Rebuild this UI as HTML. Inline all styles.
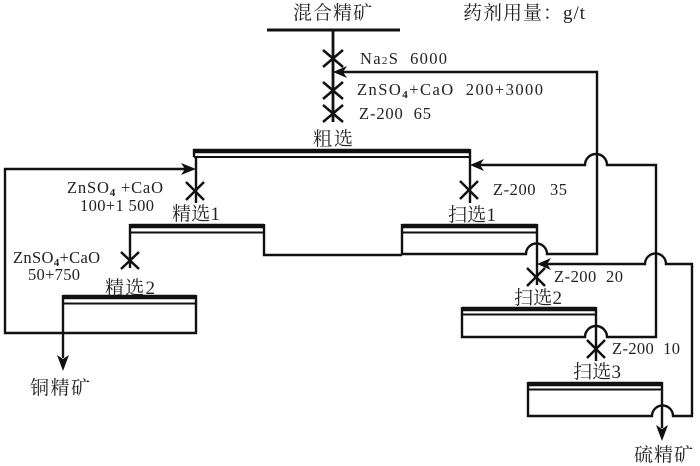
<!DOCTYPE html>
<html><head><meta charset="utf-8"><style>
html,body{margin:0;padding:0;background:#fff;width:700px;height:466px;overflow:hidden}
svg{display:block}
text{font-family:"Liberation Serif","Noto Serif CJK SC",serif;fill:#222;font-size:16.500px;white-space:pre}
.c{font-size:19px}
.l{fill:none;stroke:#111;stroke-width:2.400}
.x{fill:none;stroke:#111;stroke-width:2.500}
.t{fill:none;stroke:#111;stroke-width:4.500}
.s{fill:none;stroke:#111;stroke-width:2}
</style></head><body>
<svg width="700" height="466" viewBox="0 0 700 466" xmlns="http://www.w3.org/2000/svg">
<g style="filter:blur(0.3px)">
<!-- feed -->
<path d="M267 30H400" stroke="#111" stroke-width="3" fill="none"/>
<path class="l" d="M333 30V122" style="stroke-width:2.800"/>
<path class="x" d="M323 50L343 67M343 50L323 67M323 82L343 99M343 82L323 99M323 105L343 122M343 105L323 122"/>

<!-- roughing -->
<path class="t" d="M193 151H470"/>
<path class="s" d="M194 157H470"/>
<path class="l" d="M194 149V157M470 149V203M196 157V203"/>
<path class="x" d="M186 182L204 200M204 182L186 200M460 181L478 199M478 181L460 199"/>

<!-- cleaner 1 -->
<path class="t" d="M130 226H264"/>
<path class="s" d="M130 232.500H264"/>
<path class="l" d="M130 224V268M264 224V255H402"/>
<path class="x" d="M121 252L139 269M139 252L121 269"/>

<!-- cleaner 2 -->
<path class="t" d="M63 297H196"/>
<path class="s" d="M63 303.500H196"/>
<path class="l" d="M196 295V333H5V169H186M63 295V358"/>
<path d="M57 355L63 371L69 355L63 359Z" fill="#111"/>
<path d="M196 169L181 163L185 169L181 175Z" fill="#111"/>

<!-- scav 1 -->
<path class="t" d="M402 226H537"/>
<path class="s" d="M402 232.500H537"/>
<path class="l" d="M402 224V254H526A10.500 10.500 0 0 1 547 254H597V72H340"/>
<path class="l" d="M537 224V285"/>
<path d="M333 72L347 66L343 72L347 78Z" fill="#111"/>
<path class="x" d="M527 268L545 286M545 268L527 286"/>

<!-- scav 2 -->
<path class="t" d="M462 309H596"/>
<path class="s" d="M462 314.500H596"/>
<path class="l" d="M462 307V337H585A11 11 0 0 1 607 337H656V165H607A11 11 0 0 0 585 165H476"/>
<path class="l" d="M596 307V361"/>
<path d="M470 165L484 159L480 165L484 171Z" fill="#111"/>
<path class="x" d="M587 340L605 358M605 340L587 358"/>

<!-- scav 3 -->
<path class="t" d="M528 384H662"/>
<path class="s" d="M528 389.500H662"/>
<path class="l" d="M528 382V416H652A10.500 10.500 0 0 1 673 416H692V264H666A10.500 10.500 0 0 0 645 264H543"/>
<path class="l" d="M662 382V428"/>
<path d="M537 264L551 258L547 264L551 270Z" fill="#111"/>
<path d="M656 425L662 441L668 425L662 429Z" fill="#111"/>

<!-- labels -->
<text class="c" x="293" y="19" textLength="79">混合精矿</text>
<text class="c" x="463" y="19" textLength="122">药剂用量：g/t</text>
<text x="360" y="64" textLength="87">Na<tspan font-size="11">2</tspan>S  6000</text>
<text x="357" y="95" textLength="186">ZnSO<tspan font-size="11" dy="3" font-weight="bold">4</tspan><tspan dy="-3">+CaO  200+3000</tspan></text>
<text x="359" y="119" textLength="72">Z-200  65</text>
<text class="c" x="313" y="145" textLength="40">粗选</text>
<text x="493" y="195" textLength="74">Z-200   35</text>
<text class="c" x="448" y="221" textLength="48">扫选1</text>
<text x="67" y="193" textLength="96">ZnSO<tspan font-size="11" dy="3" font-weight="bold">4</tspan><tspan dy="-3"> +CaO</tspan></text>
<text x="80" y="211" textLength="74">100+1 500</text>
<text class="c" x="172" y="220" textLength="48">精选1</text>
<text x="13" y="263" textLength="87">ZnSO<tspan font-size="11" dy="3" font-weight="bold">4</tspan><tspan dy="-3">+CaO</tspan></text>
<text x="28" y="280" textLength="52">50+750</text>
<text class="c" x="105" y="294" textLength="50">精选2</text>
<text x="554" y="282" textLength="69">Z-200  20</text>
<text class="c" x="514" y="304" textLength="48">扫选2</text>
<text x="612" y="354" textLength="68">Z-200  10</text>
<text class="c" x="573" y="378" textLength="48">扫选3</text>
<text class="c" x="30" y="394" textLength="60">铜精矿</text>
<text class="c" x="634" y="461" textLength="59">硫精矿</text>
</g>
</svg>
</body></html>
